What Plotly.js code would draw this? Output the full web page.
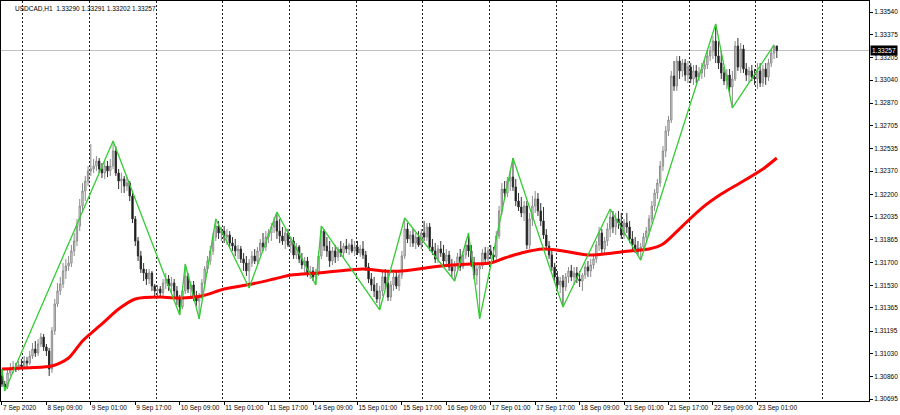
<!DOCTYPE html>
<html><head><meta charset="utf-8">
<script src="https://cdn.plot.ly/plotly-3.0.1.min.js"></script>
<style>html,body{margin:0;padding:0;background:#fff;}#chart{width:900px;height:415px;}</style>
</head><body><div id="chart"></div>
<script>
const symbolName = "USDCAD";
const periodName = "H1";

const openP = [
1.30865,1.30806,1.30784,1.30887,1.30916,1.30931,1.30916,1.30946,1.30938,1.30975,
1.30960,1.31012,1.31063,1.31034,1.31100,1.31151,1.31078,1.31049,1.30916,1.31196,
1.31394,1.31490,1.31541,1.31637,1.31673,1.31695,1.31784,1.31857,1.31967,1.32114,
1.32225,1.32298,1.32372,1.32386,1.32408,1.32445,1.32386,1.32357,1.32408,1.32372,
1.32408,1.32519,1.32357,1.32298,1.32313,1.32261,1.32283,1.32188,1.32019,1.31857,
1.31747,1.31651,1.31622,1.31578,1.31622,1.31526,1.31490,1.31504,1.31475,1.31548,
1.31578,1.31526,1.31548,1.31490,1.31431,1.31372,1.31490,1.31600,1.31504,1.31534,
1.31445,1.31416,1.31453,1.31548,1.31651,1.31710,1.31784,1.31886,1.31967,1.31916,
1.31930,1.31886,1.31901,1.31842,1.31820,1.31784,1.31798,1.31725,1.31695,1.31637,
1.31695,1.31747,1.31710,1.31784,1.31842,1.31813,1.31886,1.31916,1.31960,1.32004,
1.31930,1.31894,1.31857,1.31916,1.31828,1.31857,1.31754,1.31813,1.31725,1.31681,
1.31710,1.31622,1.31637,1.31593,1.31622,1.31747,1.31930,1.31820,1.31784,1.31710,
1.31784,1.31740,1.31798,1.31769,1.31820,1.31798,1.31828,1.31784,1.31813,1.31769,
1.31798,1.31754,1.31666,1.31578,1.31534,1.31490,1.31431,1.31490,1.31593,1.31548,
1.31445,1.31534,1.31593,1.31526,1.31607,1.31747,1.31945,1.31872,1.31901,1.31842,
1.31886,1.31828,1.31916,1.31886,1.31960,1.31813,1.31784,1.31725,1.31798,1.31769,
1.31710,1.31754,1.31666,1.31637,1.31681,1.31740,1.31666,1.31754,1.31828,1.31784,
1.31695,1.31607,1.31651,1.31673,1.31769,1.31725,1.31784,1.31754,1.31740,1.31894,
1.32078,1.32239,1.32210,1.32298,1.32327,1.32254,1.32151,1.32107,1.32063,1.32114,
1.31828,1.32019,1.32114,1.32166,1.32078,1.32004,1.31901,1.31820,1.31754,1.31666,
1.31593,1.31534,1.31563,1.31519,1.31593,1.31637,1.31593,1.31622,1.31578,1.31563,
1.31607,1.31666,1.31637,1.31681,1.31725,1.31828,1.31916,1.31798,1.31857,1.31945,
1.32033,1.31960,1.32019,1.31989,1.31901,1.31989,1.31960,1.31872,1.31828,1.31798,
1.31784,1.31813,1.31886,1.31930,1.32019,1.32114,1.32210,1.32283,1.32408,1.32519,
1.32666,1.32746,1.33070,1.32996,1.33180,1.33107,1.33165,1.33077,1.33136,1.33048,
1.33107,1.33062,1.33092,1.33121,1.33151,1.33217,1.33254,1.33327,1.33217,1.33165,
1.33092,1.33033,1.33077,1.32989,1.33048,1.33290,1.33136,1.33268,1.33121,1.33077,
1.33107,1.33062,1.33048,1.33107,1.33018,1.33121,1.33062,1.33165,1.33239,1.33290
];
const highP = [
1.30916,1.30828,1.30916,1.30960,1.30975,1.30960,1.30975,1.30990,1.31012,1.31005,
1.31049,1.31107,1.31122,1.31137,1.31181,1.31173,1.31100,1.31071,1.31225,1.31431,
1.31548,1.31593,1.31695,1.31725,1.31747,1.31828,1.31916,1.32019,1.32166,1.32283,
1.32335,1.32408,1.32570,1.32460,1.32482,1.32467,1.32430,1.32445,1.32445,1.32460,
1.32592,1.32555,1.32386,1.32357,1.32335,1.32327,1.32298,1.32225,1.32041,1.31886,
1.31784,1.31695,1.31651,1.31651,1.31637,1.31541,1.31534,1.31526,1.31578,1.31622,
1.31607,1.31593,1.31578,1.31526,1.31460,1.31526,1.31688,1.31622,1.31563,1.31563,
1.31490,1.31475,1.31578,1.31673,1.31747,1.31820,1.31916,1.32019,1.32004,1.31960,
1.31967,1.31945,1.31930,1.31886,1.31872,1.31828,1.31820,1.31769,1.31747,1.31725,
1.31784,1.31798,1.31813,1.31872,1.31916,1.31930,1.31945,1.31989,1.32033,1.32070,
1.32019,1.31960,1.31945,1.31945,1.31886,1.31886,1.31842,1.31828,1.31769,1.31740,
1.31740,1.31673,1.31666,1.31651,1.31784,1.31967,1.31945,1.31886,1.31857,1.31813,
1.31828,1.31813,1.31857,1.31842,1.31872,1.31842,1.31872,1.31857,1.31857,1.31828,
1.31857,1.31784,1.31695,1.31622,1.31593,1.31548,1.31526,1.31637,1.31651,1.31637,
1.31563,1.31622,1.31637,1.31637,1.31784,1.32026,1.31989,1.31930,1.31945,1.31916,
1.31930,1.31945,1.32004,1.31989,1.31989,1.31872,1.31842,1.31828,1.31857,1.31828,
1.31798,1.31784,1.31725,1.31710,1.31769,1.31798,1.31784,1.31857,1.31916,1.31828,
1.31740,1.31681,1.31695,1.31798,1.31813,1.31813,1.31828,1.31813,1.31930,1.32114,
1.32283,1.32298,1.32327,1.32372,1.32467,1.32313,1.32210,1.32180,1.32151,1.32151,
1.32063,1.32188,1.32225,1.32210,1.32136,1.32107,1.31945,1.31857,1.31798,1.31695,
1.31637,1.31593,1.31607,1.31622,1.31666,1.31681,1.31666,1.31666,1.31637,1.31622,
1.31695,1.31710,1.31725,1.31747,1.31857,1.31960,1.31945,1.31886,1.31989,1.32092,
1.32078,1.32063,1.32078,1.32063,1.32019,1.32063,1.32004,1.31930,1.31886,1.31857,
1.31842,1.31916,1.31960,1.32048,1.32151,1.32239,1.32313,1.32445,1.32555,1.32702,
1.32776,1.33107,1.33180,1.33217,1.33217,1.33195,1.33195,1.33180,1.33165,1.33151,
1.33151,1.33136,1.33165,1.33195,1.33254,1.33290,1.33364,1.33452,1.33327,1.33254,
1.33136,1.33121,1.33121,1.33107,1.33327,1.33349,1.33312,1.33298,1.33165,1.33136,
1.33151,1.33121,1.33165,1.33165,1.33151,1.33165,1.33195,1.33268,1.33298,1.33291
];
const lowP = [
1.30784,1.30755,1.30769,1.30865,1.30887,1.30894,1.30902,1.30916,1.30924,1.30931,
1.30946,1.30990,1.31005,1.31012,1.31078,1.31049,1.31012,1.30865,1.30887,1.31166,
1.31372,1.31460,1.31512,1.31578,1.31637,1.31666,1.31747,1.31820,1.31930,1.32078,
1.32151,1.32261,1.32335,1.32357,1.32372,1.32357,1.32320,1.32313,1.32327,1.32335,
1.32386,1.32335,1.32239,1.32210,1.32210,1.32225,1.32151,1.31989,1.31820,1.31710,
1.31622,1.31563,1.31534,1.31541,1.31490,1.31453,1.31445,1.31438,1.31453,1.31504,
1.31490,1.31475,1.31445,1.31387,1.31313,1.31357,1.31468,1.31475,1.31431,1.31416,
1.31379,1.31284,1.31431,1.31526,1.31622,1.31681,1.31754,1.31857,1.31872,1.31857,
1.31842,1.31828,1.31813,1.31784,1.31747,1.31725,1.31695,1.31637,1.31600,1.31512,
1.31666,1.31688,1.31681,1.31747,1.31784,1.31784,1.31842,1.31857,1.31916,1.31872,
1.31842,1.31828,1.31798,1.31813,1.31769,1.31725,1.31725,1.31695,1.31651,1.31622,
1.31593,1.31578,1.31563,1.31534,1.31600,1.31725,1.31784,1.31740,1.31666,1.31681,
1.31695,1.31710,1.31740,1.31740,1.31769,1.31754,1.31769,1.31747,1.31754,1.31740,
1.31725,1.31637,1.31548,1.31490,1.31445,1.31401,1.31350,1.31453,1.31504,1.31416,
1.31416,1.31490,1.31504,1.31490,1.31578,1.31725,1.31842,1.31813,1.31813,1.31798,
1.31813,1.31798,1.31857,1.31857,1.31784,1.31754,1.31695,1.31695,1.31740,1.31681,
1.31666,1.31637,1.31593,1.31563,1.31651,1.31637,1.31651,1.31725,1.31740,1.31666,
1.31578,1.31534,1.31284,1.31651,1.31695,1.31695,1.31725,1.31695,1.31710,1.31872,
1.32048,1.32166,1.32180,1.32225,1.32225,1.32114,1.32078,1.32033,1.32004,1.31798,
1.31798,1.31967,1.32063,1.32041,1.31967,1.31872,1.31798,1.31725,1.31637,1.31563,
1.31504,1.31475,1.31372,1.31490,1.31548,1.31563,1.31534,1.31548,1.31519,1.31490,
1.31578,1.31593,1.31593,1.31651,1.31695,1.31784,1.31754,1.31769,1.31820,1.31886,
1.31916,1.31901,1.31945,1.31872,1.31872,1.31916,1.31842,1.31784,1.31769,1.31754,
1.31717,1.31784,1.31857,1.31901,1.31989,1.32078,1.32166,1.32254,1.32372,1.32474,
1.32629,1.32724,1.32960,1.32960,1.33048,1.33062,1.33033,1.33018,1.33018,1.33004,
1.33018,1.33033,1.33048,1.33062,1.33121,1.33180,1.33195,1.33165,1.33121,1.33048,
1.33004,1.32974,1.32945,1.32835,1.33033,1.33107,1.33092,1.33092,1.33033,1.33018,
1.33033,1.33004,1.32974,1.32989,1.32989,1.33004,1.33033,1.33136,1.33195,1.33202
];
const closeP = [
1.30806,1.30784,1.30887,1.30916,1.30931,1.30916,1.30946,1.30938,1.30975,1.30960,
1.31012,1.31063,1.31034,1.31100,1.31151,1.31078,1.31049,1.30916,1.31196,1.31394,
1.31490,1.31541,1.31637,1.31673,1.31695,1.31784,1.31857,1.31967,1.32114,1.32225,
1.32298,1.32372,1.32386,1.32408,1.32445,1.32386,1.32357,1.32408,1.32372,1.32408,
1.32519,1.32357,1.32298,1.32313,1.32261,1.32283,1.32188,1.32019,1.31857,1.31747,
1.31651,1.31622,1.31578,1.31622,1.31526,1.31490,1.31504,1.31475,1.31548,1.31578,
1.31526,1.31548,1.31490,1.31431,1.31372,1.31490,1.31600,1.31504,1.31534,1.31445,
1.31416,1.31453,1.31548,1.31651,1.31710,1.31784,1.31886,1.31967,1.31916,1.31930,
1.31886,1.31901,1.31842,1.31820,1.31784,1.31798,1.31725,1.31695,1.31637,1.31695,
1.31747,1.31710,1.31784,1.31842,1.31813,1.31886,1.31916,1.31960,1.32004,1.31930,
1.31894,1.31857,1.31916,1.31828,1.31857,1.31754,1.31813,1.31725,1.31681,1.31710,
1.31622,1.31637,1.31593,1.31622,1.31747,1.31930,1.31820,1.31784,1.31710,1.31784,
1.31740,1.31798,1.31769,1.31820,1.31798,1.31828,1.31784,1.31813,1.31769,1.31798,
1.31754,1.31666,1.31578,1.31534,1.31490,1.31431,1.31490,1.31593,1.31548,1.31445,
1.31534,1.31593,1.31526,1.31607,1.31747,1.31945,1.31872,1.31901,1.31842,1.31886,
1.31828,1.31916,1.31886,1.31960,1.31813,1.31784,1.31725,1.31798,1.31769,1.31710,
1.31754,1.31666,1.31637,1.31681,1.31740,1.31666,1.31754,1.31828,1.31784,1.31695,
1.31607,1.31651,1.31673,1.31769,1.31725,1.31784,1.31754,1.31740,1.31894,1.32078,
1.32239,1.32210,1.32298,1.32327,1.32254,1.32151,1.32107,1.32063,1.32114,1.31828,
1.32019,1.32114,1.32166,1.32078,1.32004,1.31901,1.31820,1.31754,1.31666,1.31593,
1.31534,1.31563,1.31519,1.31593,1.31637,1.31593,1.31622,1.31578,1.31563,1.31607,
1.31666,1.31637,1.31681,1.31725,1.31828,1.31916,1.31798,1.31857,1.31945,1.32033,
1.31960,1.32019,1.31989,1.31901,1.31989,1.31960,1.31872,1.31828,1.31798,1.31784,
1.31813,1.31886,1.31930,1.32019,1.32114,1.32210,1.32283,1.32408,1.32519,1.32666,
1.32746,1.33070,1.32996,1.33180,1.33107,1.33165,1.33077,1.33136,1.33048,1.33107,
1.33062,1.33092,1.33121,1.33151,1.33217,1.33254,1.33327,1.33217,1.33165,1.33092,
1.33033,1.33077,1.32989,1.33048,1.33290,1.33136,1.33268,1.33121,1.33077,1.33107,
1.33062,1.33048,1.33107,1.33018,1.33121,1.33062,1.33165,1.33239,1.33290,1.33257
];

// ZigZag turning points (bar index, price)
const zigzagBars = [0,1,40,64,66,71,77,89,99,113,115,136,145,163,168,172,184,202,219,230,257,263,278];
const zigzagPrices = [1.30916,1.30755,1.32592,1.31313,1.31688,1.31284,1.32019,1.31512,1.32070,1.31534,1.31967,1.31350,1.32026,1.31563,1.31916,1.31284,1.32467,1.31372,1.32092,1.31717,1.33452,1.32835,1.33298];

// Moving average (read at selected bars)
const maBars = [0,15,18,24,29,36,42,48,57,62,72,80,90,98,104,114,130,137,144,155,162,169,176,181,187,195,202,211,220,226,233,238,245,252,259,267,274,279];
const maValues = [1.30916,1.30931,1.30938,1.30997,1.31122,1.31247,1.31357,1.31431,1.31445,1.31438,1.31453,1.31504,1.31541,1.31578,1.31607,1.31622,1.31651,1.31637,1.31637,1.31666,1.31681,1.31688,1.31695,1.31732,1.31769,1.31798,1.31784,1.31754,1.31769,1.31784,1.31798,1.31835,1.31967,1.32099,1.32202,1.32298,1.32386,1.32467];

// Time axis labels (bar index -> label)
const timeTickBars = [0,16,32,48,64,80,96,112,128,144,160,176,192,208,224,240,256,272];
const timeTickLabels = ["7 Sep 2020","8 Sep 09:00","9 Sep 01:00","9 Sep 17:00","10 Sep 09:00","11 Sep 01:00","11 Sep 17:00","14 Sep 09:00","15 Sep 01:00","15 Sep 17:00","16 Sep 09:00","17 Sep 01:00","17 Sep 17:00","18 Sep 09:00","21 Sep 01:00","21 Sep 17:00","22 Sep 09:00","23 Sep 01:00"];

// Price axis labels
const priceTicks = [1.33540,1.33375,1.33205,1.33040,1.32870,1.32705,1.32535,1.32370,1.32200,1.32035,1.31865,1.31700,1.31530,1.31365,1.31195,1.31030,1.30860,1.30695];

const barIndex = closeP.map((_, i) => i);
const n = closeP.length;
const lastO = openP[n-1], lastH = highP[n-1], lastL = lowP[n-1], lastC = closeP[n-1];
const f5 = v => v.toFixed(5);

const FONT = 'Liberation Sans, Arial, sans-serif';

const traces = [
  {
    type: 'candlestick', x: barIndex, open: openP, high: highP, low: lowP, close: closeP,
    increasing: {line: {color: '#8c8c8c', width: 1}, fillcolor: '#e8e8e8'},
    decreasing: {line: {color: '#303030', width: 1}, fillcolor: '#000000'},
    whiskerwidth: 0, hoverinfo: 'skip', showlegend: false
  },
  {
    type: 'scatter', mode: 'lines', x: maBars, y: maValues,
    line: {color: '#ff0000', width: 3, shape: 'spline', smoothing: 0.8},
    hoverinfo: 'skip', showlegend: false
  },
  {
    type: 'scatter', mode: 'lines', x: zigzagBars, y: zigzagPrices,
    line: {color: '#33cc33', width: 1.3},
    hoverinfo: 'skip', showlegend: false
  }
];

const layout = {
  width: 900, height: 415,
  margin: {l: 1, r: 31, t: 1, b: 14, pad: 0},
  paper_bgcolor: '#ffffff', plot_bgcolor: '#ffffff',
  showlegend: false,
  font: {family: FONT, size: 6.5, color: '#000000'},
  xaxis: {
    range: [-0.35, 312.2],
    rangeslider: {visible: false},
    tickmode: 'array', tickvals: timeTickBars, ticktext: timeTickLabels,
    tickangle: 0, automargin: false,
    ticks: 'outside', ticklen: 3, tickwidth: 1, tickcolor: '#000000',
    ticklabelposition: 'outside right',
    tickfont: {family: FONT, size: 6.5, color: '#000000'},
    showgrid: false, zeroline: false,
    showline: true, mirror: true, linecolor: '#000000', linewidth: 1,
    minor: {tickmode: 'linear', tick0: 7.5, dtick: 24, showgrid: true, gridcolor: '#222222', griddash: '2px,2px', gridwidth: 1, ticks: ''},
    fixedrange: true
  },
  yaxis: {
    side: 'right',
    range: [1.30681, 1.33621],
    tickmode: 'array', tickvals: priceTicks, tickformat: '.5f',
    ticks: 'outside', ticklen: 3, tickwidth: 1, tickcolor: '#000000',
    tickfont: {family: FONT, size: 6.5, color: '#000000'},
    showgrid: false, zeroline: false, automargin: false,
    showline: true, mirror: true, linecolor: '#000000', linewidth: 1,
    fixedrange: true
  },
  shapes: [
    {type: 'line', xref: 'paper', x0: 0, x1: 1, yref: 'y', y0: lastC, y1: lastC,
     line: {color: '#c0c0c0', width: 1}, layer: 'below'}
  ],
  annotations: [
    {xref: 'paper', yref: 'paper', x: 0, y: 1, xanchor: 'left', yanchor: 'top', xshift: 12, yshift: -2,
     showarrow: false, align: 'left',
     text: symbolName + ',' + periodName + '  ' + f5(lastO) + ' ' + f5(lastH) + ' ' + f5(lastL) + ' ' + f5(lastC),
     font: {family: FONT, size: 6.5, color: '#000000'}},
    {xref: 'paper', yref: 'y', x: 1, y: lastC, xanchor: 'left', yanchor: 'middle', xshift: 1,
     showarrow: false, text: f5(lastC), bgcolor: '#000000', borderpad: 1,
     font: {family: FONT, size: 6.5, color: '#ffffff'}}
  ]
};

Plotly.newPlot('chart', traces, layout, {staticPlot: true, displayModeBar: false});
</script>
</body></html>
